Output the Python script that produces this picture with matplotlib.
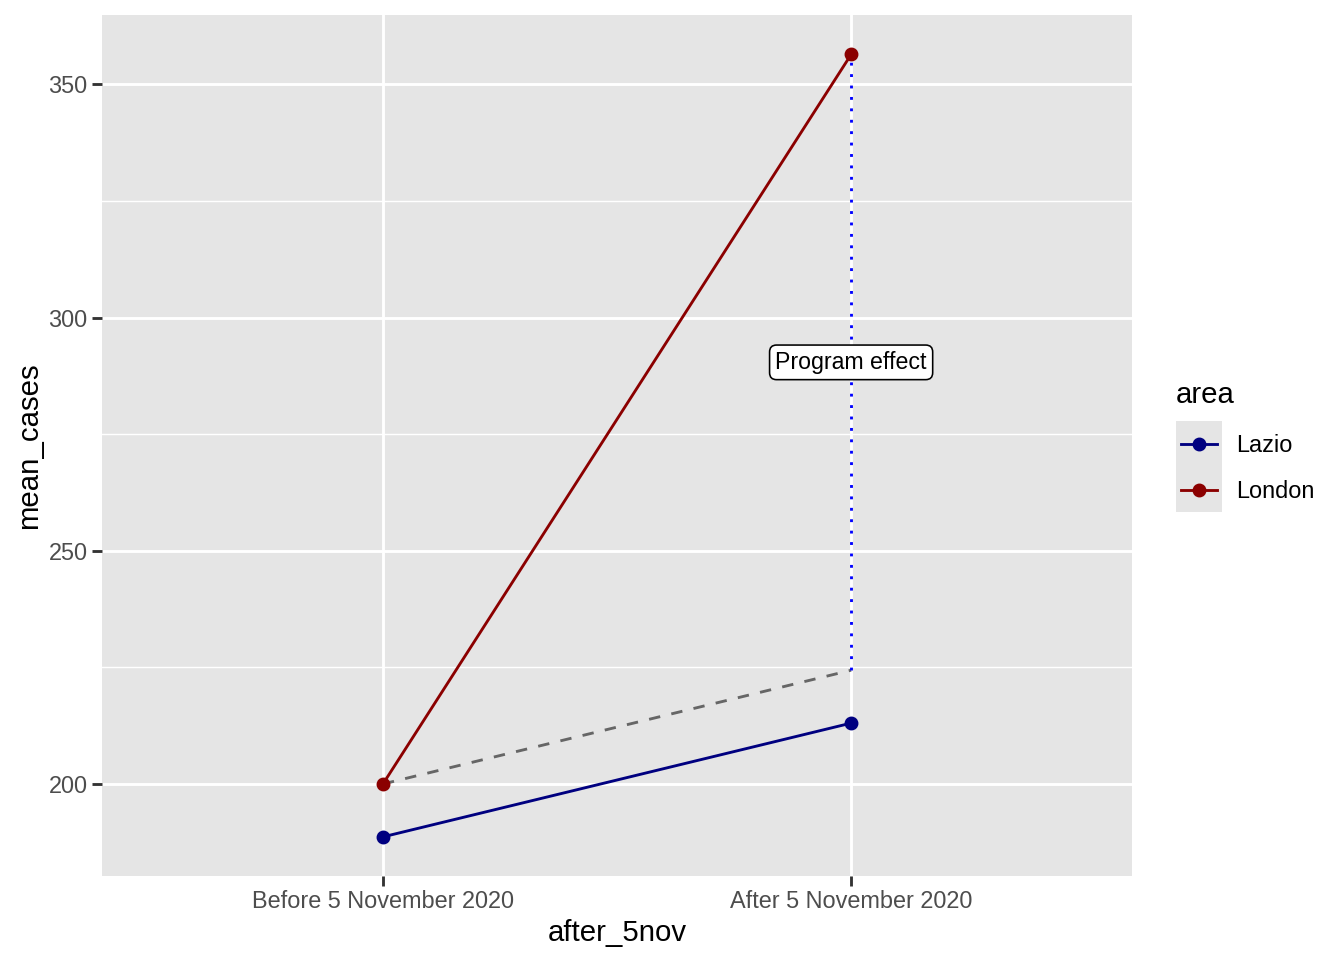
import matplotlib
matplotlib.use("Agg")
import matplotlib.pyplot as plt
from matplotlib.lines import Line2D
from matplotlib.patches import Rectangle

plt.rcParams['font.family'] = ['Liberation Sans', 'DejaVu Sans']

# data
periods = ["Before 5 November 2020", "After 5 November 2020"]
areas = ["Lazio", "London"]
colors = ["#000080", "#8B0000"]
mean_cases = {
    "Lazio": [188.66, 213.05],
    "London": [200.0, 356.4],
}

x = [1, 2]
lazio = mean_cases["Lazio"]
london = mean_cases["London"]
counterfactual = london[0] + (lazio[1] - lazio[0])
label_y = (counterfactual + london[1]) / 2

fig = plt.figure(figsize=(7, 5), dpi=192)
ax = fig.add_axes([0.0759, 0.0875, 0.8423 - 0.0759, 0.984 - 0.0875])
ax.set_facecolor("#E5E5E5")

# grid like theme_grey
for v in [225, 275, 325]:
    ax.axhline(v, color="white", lw=0.53, zorder=0)
for v in [200, 250, 300, 350]:
    ax.axhline(v, color="white", lw=1.07, zorder=0)
for v in x:
    ax.axvline(v, color="white", lw=1.07, zorder=0)

for name, col in zip(areas, colors):
    ax.plot(x, mean_cases[name], color=col, lw=1.07, marker="o", ms=4.2,
            zorder=3, solid_capstyle="butt")

# counterfactual trend
ax.plot(x, [london[0], counterfactual], color="#666666", lw=1.07,
        dashes=(4, 4), zorder=2)
# program effect
ax.plot([2, 2], [counterfactual, london[1]], color="blue", lw=1.07,
        dashes=(1, 3), zorder=2)
ax.text(2, label_y, "Program effect", ha="center", va="center", fontsize=8.7,
        color="black", zorder=4,
        bbox=dict(boxstyle="round,pad=0.25,rounding_size=0.3", fc="white",
                  ec="black", lw=0.6))

span = max(lazio + london) - min(lazio + london)
ax.set_ylim(min(lazio + london) - 0.05 * span, max(lazio + london) + 0.05 * span)
ax.set_xlim(0.4, 2.6)
ax.set_xticks(x)
ax.set_xticklabels(periods)
ax.set_yticks([200, 250, 300, 350])

for s in ax.spines.values():
    s.set_visible(False)
ax.tick_params(axis="both", length=3.6, width=1.07, color="#333333",
               labelsize=8.8, labelcolor="#4D4D4D", pad=1.8)
ax.set_xlabel("after_5nov", fontsize=11, labelpad=2)
ax.set_ylabel("mean_cases", fontsize=11, labelpad=2)

# legend drawn like ggplot's
W, H = 1344, 960
fig.text(1176 / W, 1 - 403 / H, "area", fontsize=11, va="baseline", ha="left")
fig.patches.append(Rectangle((1176 / W, 1 - 512 / H), 46 / W, 91 / H,
                             transform=fig.transFigure, fc="#E5E5E5", ec="none"))
for i, (name, col) in enumerate(zip(areas, colors)):
    yk = 1 - (444 + 46 * i) / H
    fig.lines.append(Line2D([1181 / W, 1217 / W], [yk, yk], color=col, lw=1.07,
                            transform=fig.transFigure))
    fig.lines.append(Line2D([1199 / W], [yk], color=col, marker="o", ms=4.2,
                            transform=fig.transFigure))
    fig.text(1236 / W, yk - 2 / H, name, fontsize=8.8, va="center", ha="left")

fig.savefig("out.png", dpi=192)
